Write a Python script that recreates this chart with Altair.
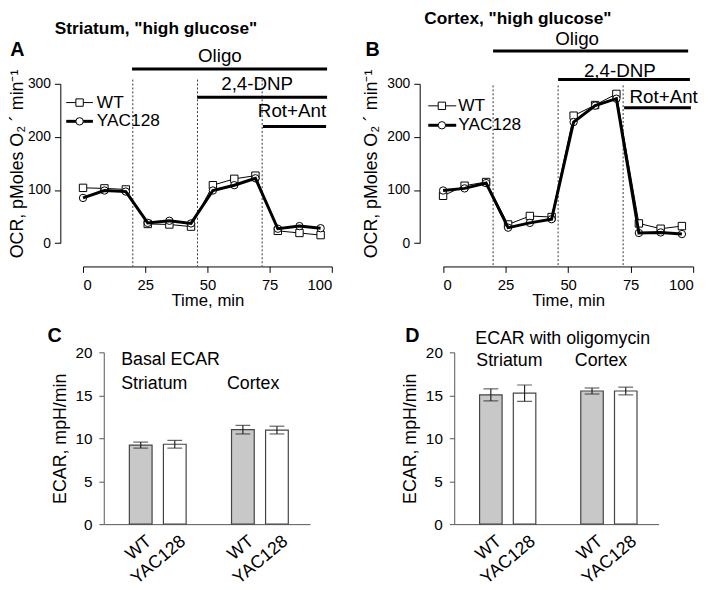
import altair as alt
import pandas as pd

FONT = "Liberation Sans"

# ---------------- data ----------------
time_min = [0, 8.6, 17.2, 26.0, 34.7, 43.4, 52.2, 60.8, 69.3, 78.3, 87.0, 95.5]
striatum_wt = [104, 103, 101, 36, 35, 31, 109, 121, 127, 23, 19, 15]
striatum_yac = [85, 99, 97, 38, 42, 37, 99, 109, 122, 27, 32, 28]
cortex_wt = [89, 108, 115, 35, 51, 49, 240, 260, 281, 37, 27, 32]
cortex_yac = [99, 103, 113, 29, 38, 45, 228, 259, 272, 19, 20, 17]
genotypes = ["WT", "YAC128"]

injection_times = [20, 46, 72]
treatments = ["Oligo", "2,4-DNP", "Rot+Ant"]
# treatment bars (start time, end time, level in OCR units) and label anchors
a_treat_start = [19.7, 45.9, 72.3]
a_treat_end = [98.1, 98.1, 97.7]
a_treat_level = [328, 274.5, 219.5]
a_label_time = [55, 70, 84]
a_label_level = [342, 289, 237]
a_vline_top = 308

b_treat_start = [20, 46, 72.4]
b_treat_end = [98, 98.7, 99.1]
b_treat_level = [362, 308, 255]
b_label_time = [53.6, 70.7, 88.2]
b_label_level = [373, 313, 264.6]
b_vline_top = 297

bar_regions = ["Striatum", "Striatum", "Cortex", "Cortex"]
bar_genotypes = ["WT", "YAC128", "WT", "YAC128"]
basal_ecar = [9.2, 9.3, 11.0, 10.95]
basal_sem = [0.35, 0.45, 0.5, 0.45]
oligo_ecar = [15.05, 15.25, 15.5, 15.5]
oligo_sem = [0.7, 0.95, 0.35, 0.45]

MARKERS = {"WT": ("square", 56, 1), "YAC128": ("circle", 56, 3)}


def label_mark(text, x, y, size, weight="normal"):
    return alt.Chart(pd.DataFrame({"t": [text]})).mark_text(
        fontSize=size, fontWeight=weight, align="left", baseline="alphabetic",
        color="black").encode(x=alt.value(x), y=alt.value(y), text="t:N")


def ocr_panel(wt, yac, x_range, y_offset, t_start, t_end, t_level, l_time, l_level,
              vline_top, key_x, key_rows, title, title_xy, letter, letter_xy, ytitle_pad):
    df = pd.DataFrame({
        "time": time_min * 2,
        "ocr": wt + yac,
        "genotype": ["WT"] * len(wt) + ["YAC128"] * len(yac),
    })
    xs = alt.Scale(domain=[0, 100], range=x_range)
    ys = alt.Scale(domain=[0, 300], range=[161.3, 0])
    xax = alt.Axis(values=[0, 25, 50, 75, 100], tickSize=6, labelPadding=5,
                   labelFontSize=15, title="Time, min", titleFontSize=17,
                   titleFontWeight="normal", titlePadding=1, domainColor="black",
                   tickColor="black", labelColor="black", titleColor="black", grid=False)
    yax = alt.Axis(values=[0, 100, 200, 300], tickSize=6, labelPadding=4,
                   labelFontSize=14, offset=y_offset,
                   title="OCR, pMoles O\u2082 \u00b4 min\u207b\u00b9", titleFontSize=18,
                   titleFontWeight="normal", titlePadding=ytitle_pad, domainColor="black",
                   tickColor="black", labelColor="black", titleColor="black", grid=False)

    def X(f):
        return alt.X(f, type="quantitative", scale=xs, axis=xax)

    def Y(f):
        return alt.Y(f, type="quantitative", scale=ys, axis=yax)

    vdf = pd.DataFrame({"time": injection_times, "top": [vline_top] * 3, "bottom": [-44] * 3})
    vlines = alt.Chart(vdf).mark_rule(color="#333", strokeWidth=1, strokeDash=[2, 2]).encode(
        x=X("time"), y=Y("top"), y2="bottom")

    tdf = pd.DataFrame({"start": t_start, "end": t_end, "level": t_level,
                        "lt": l_time, "ll": l_level, "treatment": treatments})
    tbars = alt.Chart(tdf).mark_rule(color="black", strokeWidth=3).encode(
        x=X("start"), x2="end", y=Y("level"))
    tlabels = alt.Chart(tdf).mark_text(fontSize=19, align="center", baseline="alphabetic",
                                        color="black").encode(
        x=X("lt"), y=Y("ll"), text="treatment:N")

    wt_line = alt.Chart(df).transform_filter(alt.datum.genotype == "WT").mark_line(
        color="black", strokeWidth=1).encode(x=X("time"), y=Y("ocr"))
    yac_line = alt.Chart(df).transform_filter(alt.datum.genotype == "YAC128").mark_line(
        color="black", strokeWidth=3).encode(x=X("time"), y=Y("ocr"))
    wt_pts = alt.Chart(df).transform_filter(alt.datum.genotype == "WT").mark_point(
        shape="square", size=56, filled=True, fill="white", stroke="black",
        strokeWidth=1, opacity=1).encode(x=X("time"), y=Y("ocr"))
    yac_pts = alt.Chart(df).transform_filter(alt.datum.genotype == "YAC128").mark_point(
        shape="circle", size=56, filled=True, fill="white", stroke="black",
        strokeWidth=1, opacity=1).encode(x=X("time"), y=Y("ocr"))

    # key (legend): line + marker + label for each genotype
    key_layers = []
    x0, xm, x1, xt = key_x
    for g, ky in zip(genotypes, key_rows):
        shape, size, lw = MARKERS[g]
        kdf = pd.DataFrame({"genotype": [g]})
        key_layers.append(alt.Chart(kdf).mark_rule(color="black", strokeWidth=lw).encode(
            x=alt.value(x0), x2=alt.value(x1), y=alt.value(ky)))
        key_layers.append(alt.Chart(kdf).mark_point(
            shape=shape, size=size, filled=True, fill="white", stroke="black",
            strokeWidth=1, opacity=1).encode(x=alt.value(xm), y=alt.value(ky)))
        key_layers.append(alt.Chart(kdf).mark_text(
            fontSize=17.5, align="left", baseline="middle", color="black").encode(
            x=alt.value(xt), y=alt.value(ky), text="genotype:N"))

    title_mark = label_mark(title, title_xy[0], title_xy[1], 17.5, "bold")
    letter_mark = label_mark(letter, letter_xy[0], letter_xy[1], 20, "bold")

    return alt.layer(vlines, tbars, tlabels, wt_line, wt_pts, yac_pts, yac_line,
                     *key_layers, title_mark, letter_mark).properties(width=209, height=185)


def ecar_panel(values, sems, width, head, head_y, head_dx, sub_y, str_dx, ctx_dx,
               letter, letter_xy):
    keys = [r + "|" + g for r, g in zip(bar_regions, bar_genotypes)]
    domain = keys[:2] + ["gap"] + keys[2:]
    df = pd.DataFrame({"key": keys, "genotype": bar_genotypes, "ecar": values,
                       "lo": [v - e for v, e in zip(values, sems)],
                       "hi": [v + e for v, e in zip(values, sems)]})
    xs = alt.Scale(domain=domain, paddingInner=0.333, paddingOuter=0.696, align=0.54)
    xax = alt.Axis(ticks=False, labelAngle=-40, labelAlign="right", labelBaseline="top",
                   labelFontSize=18, labelPadding=8, labelOffset=3, title=None,
                   domainColor="#555", labelColor="black",
                   labelExpr="datum.value == 'gap' ? '' : split(datum.value, '|')[1]")
    ys = alt.Scale(domain=[0, 20])
    yax = alt.Axis(values=[0, 5, 10, 15, 20], tickSize=5, labelPadding=7, labelFontSize=15.5,
                   title="ECAR, mpH/min", titleFontSize=18, titleFontWeight="normal",
                   titlePadding=6, domainColor="#555", tickColor="#555",
                   labelColor="black", titleColor="black", grid=False)

    def X(f, **kw):
        return alt.X(f, type="nominal", scale=xs, axis=xax, **kw)

    def Y(f):
        return alt.Y(f, type="quantitative", scale=ys, axis=yax)

    bars = alt.Chart(df).mark_bar(stroke="#444", strokeWidth=1.2).encode(
        x=X("key"), y=Y("ecar"),
        fill=alt.Fill("genotype:N", scale=alt.Scale(domain=genotypes,
                                                      range=["#c8c8c8", "white"]),
                      legend=None))
    err = alt.Chart(df).mark_rule(color="#222", strokeWidth=1.2).encode(
        x=X("key"), y=Y("lo"), y2="hi")
    cap_hi = alt.Chart(df).mark_tick(color="#222", size=15, thickness=1.2).encode(
        x=X("key"), y=Y("hi"))
    cap_lo = alt.Chart(df).mark_tick(color="#222", size=15, thickness=1.2).encode(
        x=X("key"), y=Y("lo"))

    ann = pd.DataFrame({
        "key": [keys[0], keys[0], keys[2]],
        "y": [head_y, sub_y, sub_y],
        "txt": [head, "Striatum", "Cortex"],
        "dx": [head_dx, str_dx, ctx_dx],
    })
    texts = []
    for i in range(3):
        texts.append(alt.Chart(ann.iloc[[i]]).mark_text(
            fontSize=18, align="left", baseline="middle", color="black",
            dx=float(ann.dx[i])).encode(
            x=X("key", bandPosition=0), y=Y("y"), text="txt:N"))

    letter_mark = label_mark(letter, letter_xy[0], letter_xy[1], 20, "bold")

    return alt.layer(bars, err, cap_hi, cap_lo, *texts, letter_mark).properties(
        width=width, height=174)


panel_a = ocr_panel(striatum_wt, striatum_yac, [-21, 231], 44, a_treat_start, a_treat_end,
                    a_treat_level, a_label_time, a_label_level, a_vline_top,
                    (-38, -24.5, -11, -7), (19, 38), 'Striatum, "high glucose"',
                    (-49.7, -50.3), "A", (-94.7, -27.7), 1)
panel_b = ocr_panel(cortex_wt, cortex_yac, [-11.3, 242], 35, b_treat_start, b_treat_end,
                    b_treat_level, b_label_time, b_label_level, b_vline_top,
                    (-26.3, -12.5, 2, 4), (22.3, 42), 'Cortex, "high glucose"',
                    (-30.3, -60.7), "B", (-90, -28.3), 6)
panel_c = ecar_panel(basal_ecar, basal_sem, 209, "Basal ECAR", 19.05, -8.3, 16.25, -8.3,
                     -4.6, "C", (-57, -10.3))
panel_d = ecar_panel(oligo_ecar, oligo_sem, 207, "ECAR with oligomycin", 21.6, -4.3, 18.94,
                     -3.3, -6, "D", (-49.7, -10.3))

chart = alt.concat(panel_a, panel_b, panel_c, panel_d, columns=2,
                   spacing={"row": 87, "column": 146}, bounds="flush").resolve_scale(
    x="independent", y="independent", fill="independent"
).properties(
    padding={"left": 0, "top": -2, "right": 0, "bottom": 4}
).configure(font=FONT).configure_view(stroke=None)

chart.save("out.html", embed_options={"renderer": "svg", "actions": False})
